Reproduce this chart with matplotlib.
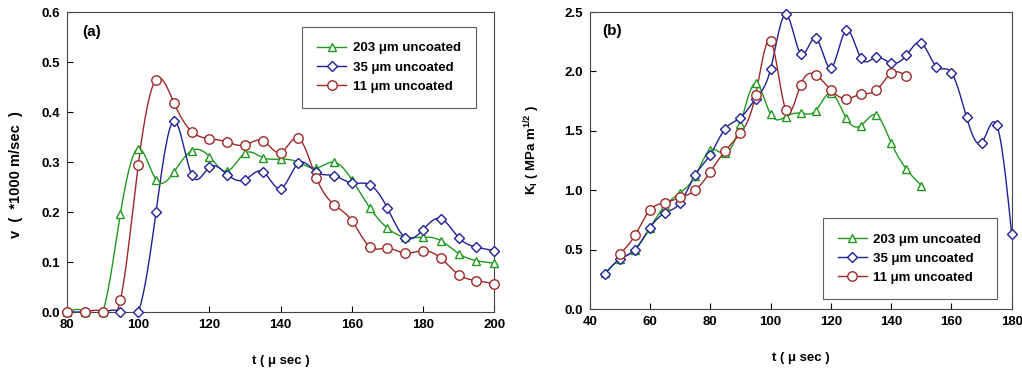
import numpy as np
import matplotlib
matplotlib.use("Agg")
import matplotlib.pyplot as plt

plt.rcParams['font.family'] = ['Liberation Sans', 'DejaVu Sans']
plt.rcParams['font.weight'] = 'bold'
plt.rcParams['mathtext.fontset'] = 'custom'
plt.rcParams['mathtext.rm'] = 'Liberation Sans:bold'
plt.rcParams['mathtext.bf'] = 'Liberation Sans:bold'
plt.rcParams['mathtext.it'] = 'Liberation Sans:bold'

# ---- panel (a): crack velocity ----
t_a = [80, 85, 90, 95, 100, 105, 110, 115, 120, 125, 130, 135, 140, 145,
       150, 155, 160, 165, 170, 175, 180, 185, 190, 195, 200]
v_203 = [0, 0, 0, 0.197, 0.327, 0.265, 0.28, 0.323, 0.311, 0.282, 0.318, 0.309,
         0.306, 0.30, 0.288, 0.30, 0.265, 0.209, 0.168, 0.15, 0.15, 0.143,
         0.117, 0.103, 0.098]
v_35 = [0, 0, 0, 0, 0, 0.2, 0.382, 0.275, 0.29, 0.275, 0.265, 0.281, 0.247,
        0.298, 0.28, 0.273, 0.258, 0.255, 0.208, 0.149, 0.165, 0.187, 0.149,
        0.13, 0.123]
v_11 = [0, 0, 0, 0.025, 0.295, 0.465, 0.419, 0.361, 0.347, 0.34, 0.334, 0.343,
        0.319, 0.348, 0.269, 0.215, 0.183, 0.131, 0.128, 0.118, 0.123, 0.108,
        0.075, 0.063, 0.057]

# ---- panel (b): stress intensity factor ----
t_b203 = [45, 50, 55, 60, 65, 70, 75, 80, 85, 90, 95, 100, 105, 110, 115, 120,
          125, 130, 135, 140, 145, 150]
k_203 = [0.3, 0.42, 0.5, 0.685, 0.87, 0.98, 1.12, 1.34, 1.31, 1.56, 1.90, 1.64,
         1.62, 1.65, 1.67, 1.82, 1.61, 1.545, 1.635, 1.40, 1.18, 1.04]
t_b35 = [45, 50, 55, 60, 65, 70, 75, 80, 85, 90, 95, 100, 105, 110, 115, 120,
         125, 130, 135, 140, 145, 150, 155, 160, 165, 170, 175, 180]
k_35 = [0.295, 0.42, 0.5, 0.685, 0.81, 0.895, 1.13, 1.30, 1.52, 1.61, 1.77,
        2.02, 2.48, 2.15, 2.28, 2.03, 2.345, 2.11, 2.12, 2.07, 2.135, 2.24,
        2.04, 1.99, 1.615, 1.40, 1.55, 0.63]
t_b11 = [50, 55, 60, 65, 70, 75, 80, 85, 90, 95, 100, 105, 110, 115, 120, 125,
         130, 135, 140, 145]
k_11 = [0.463, 0.62, 0.835, 0.895, 0.94, 1.0, 1.157, 1.334, 1.48, 1.80, 2.26,
        1.68, 1.89, 1.97, 1.845, 1.77, 1.81, 1.84, 1.985, 1.965]

labels = ['203 μm uncoated', '35 μm uncoated', '11 μm uncoated']
colors = ['#1f9a1f', '#20209a', '#a02828']
markers = ['^', 'D', 'o']
msizes = [6, 5.5, 6.8]


def natural_spline(x, y, n=400):
    # natural cubic spline through the points, only used to draw the smooth line
    x = np.asarray(x, float)
    y = np.asarray(y, float)
    m = len(x)
    h = np.diff(x)
    A = np.zeros((m, m))
    b = np.zeros(m)
    A[0, 0] = 1
    A[-1, -1] = 1
    for i in range(1, m - 1):
        A[i, i - 1] = h[i - 1]
        A[i, i] = 2 * (h[i - 1] + h[i])
        A[i, i + 1] = h[i]
        b[i] = 6 * ((y[i + 1] - y[i]) / h[i] - (y[i] - y[i - 1]) / h[i - 1])
    M = np.linalg.solve(A, b)
    xs = np.linspace(x[0], x[-1], n)
    idx = np.clip(np.searchsorted(x, xs) - 1, 0, m - 2)
    x0, x1 = x[idx], x[idx + 1]
    hh = x1 - x0
    a = (x1 - xs) / hh
    c = (xs - x0) / hh
    ys = (a * y[idx] + c * y[idx + 1]
          + ((a ** 3 - a) * M[idx] + (c ** 3 - c) * M[idx + 1]) * hh ** 2 / 6)
    return xs, ys


def draw(ax, series):
    handles = []
    for (x, y), lab, col, mk, ms in zip(series, labels, colors, markers, msizes):
        xs, ys = natural_spline(x, y)
        ax.plot(xs, ys, '-', color=col, lw=1.0)
        ax.plot(x, y, linestyle='none', marker=mk, ms=ms, mfc='white', mec=col,
                mew=1.0, clip_on=False, zorder=3)
        h, = ax.plot([], [], '-', color=col, lw=1.0, marker=mk, ms=ms,
                     mfc='white', mec=col, mew=1.0)
        handles.append(h)
    return handles


def style(ax):
    ax.tick_params(direction='in', length=4, width=0.8, top=False, right=False,
                   labelsize=9.5, pad=5)
    for sp in ax.spines.values():
        sp.set_linewidth(0.8)
        sp.set_color('#444444')
    for lb in ax.get_xticklabels() + ax.get_yticklabels():
        lb.set_fontweight('bold')


def legend(ax, handles, **kw):
    leg = ax.legend(handles, labels, frameon=True, fancybox=False,
                    edgecolor='#333333', prop={'size': 9.5, 'weight': 'bold'},
                    handlelength=2.2, handletextpad=0.5, borderpad=1.15,
                    labelspacing=0.52, borderaxespad=0, **kw)
    leg.get_frame().set_linewidth(0.8)
    return leg


fig = plt.figure(figsize=(10.22, 3.77), dpi=100)
ax1 = fig.add_axes([0.0656, 0.172, 0.418, 0.796])
ax2 = fig.add_axes([0.577, 0.180, 0.413, 0.788])

h1 = draw(ax1, [(t_a, v_203), (t_a, v_35), (t_a, v_11)])
ax1.set_xlim(80, 200)
ax1.set_ylim(0, 0.6)
ax1.set_xticks(np.arange(80, 201, 20))
ax1.set_yticks(np.arange(0, 0.61, 0.1))
ax1.yaxis.set_major_formatter(matplotlib.ticker.FormatStrFormatter('%.1f'))
ax1.set_xlabel('t ( μ sec )', fontsize=9.5, fontweight='bold', labelpad=17)
ax1.set_ylabel('v  (  *1000 m/sec  )', fontsize=10.5, fontweight='bold')
ax1.yaxis.set_label_coords(-0.103, 0.457)
ax1.text(0.035, 0.935, '(a)', transform=ax1.transAxes, fontsize=11,
         fontweight='bold', ha='left', va='center')
style(ax1)
legend(ax1, h1, loc='upper left', bbox_to_anchor=(0.550, 0.95))

h2 = draw(ax2, [(t_b203, k_203), (t_b35, k_35), (t_b11, k_11)])
ax2.set_xlim(40, 180)
ax2.set_ylim(0, 2.5)
ax2.set_xticks(np.arange(40, 181, 20))
ax2.set_yticks(np.arange(0, 2.51, 0.5))
ax2.yaxis.set_major_formatter(matplotlib.ticker.FormatStrFormatter('%.1f'))
ax2.set_xlabel('t ( μ sec )', fontsize=9.5, fontweight='bold', labelpad=17)
ax2.set_ylabel(r'K$_{\mathrm{I}}$ ( MPa m$^{\mathrm{1/2}}$ )', fontsize=9.5,
               fontweight='bold')
ax2.yaxis.set_label_coords(-0.114, 0.535)
ax2.text(0.03, 0.935, '(b)', transform=ax2.transAxes, fontsize=11,
         fontweight='bold', ha='left', va='center')
style(ax2)
legend(ax2, h2, loc='lower left', bbox_to_anchor=(0.552, 0.034))

fig.savefig('out.png', dpi=100)
